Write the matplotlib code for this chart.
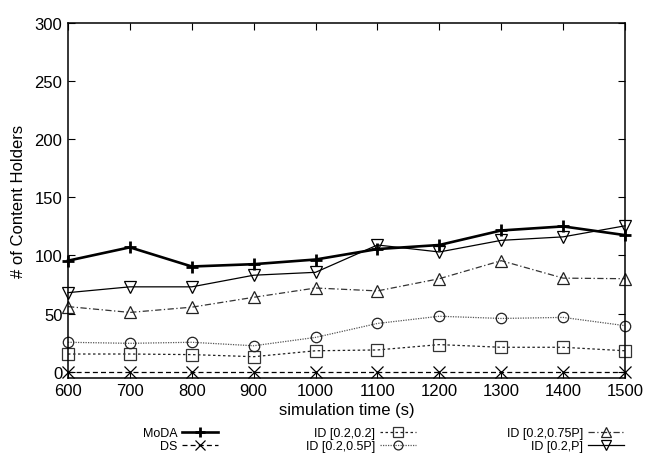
import matplotlib
matplotlib.use("Agg")
import matplotlib.pyplot as plt

plt.rcParams['font.family'] = ['Liberation Sans', 'DejaVu Sans']

# simulation times (s)
times = [600, 700, 800, 900, 1000, 1100, 1200, 1300, 1400, 1500]

# number of content holders per scheme
moda = [95.5, 107, 90.5, 92.5, 96.5, 105.5, 109, 121.5, 125, 117.5]
ds = [0, 0, 0, 0, 0, 0, 0, 0, 0, 0]
id_02_02 = [15.2, 15.2, 14.7, 12.9, 18, 18.7, 23.3, 21, 21, 18]
id_02_05p = [25.3, 24.4, 25.3, 22.3, 29.5, 41.5, 47.7, 45.8, 46.7, 39.6]
id_02_075p = [56, 51, 55.5, 64, 72, 69.5, 80, 95.5, 80.5, 80]
id_02_p = [68, 73, 73, 83, 85.5, 109, 103, 113, 116, 125.5]

fig = plt.figure(figsize=(6.48, 4.56), dpi=100)
ax = fig.add_axes([68 / 648, 1 - 378.5 / 456, 557 / 648, 354.5 / 456])

ms = 8
l_moda, = ax.plot(times, moda, color='black', lw=1.9, marker='+', ms=9, mew=2.0,
                  label='MoDA')
l_ds, = ax.plot(times, ds, color='black', lw=0.9, ls=(0, (4, 2.5)), marker='x', ms=9, mew=0.9,
                label='DS')
l_a, = ax.plot(times, id_02_02, color='#222222', lw=0.9, ls=(0, (2, 2)), marker='s', ms=ms,
               mfc='none', mec='#333333', mew=0.9, label='ID [0.2,0.2]')
l_b, = ax.plot(times, id_02_05p, color='#555555', lw=0.9, ls=(0, (1, 1)), marker='o', ms=7.5,
               mfc='none', mec='#222222', mew=0.9, label='ID [0.2,0.5P]')
l_c, = ax.plot(times, id_02_075p, color='#333333', lw=0.9, ls=(0, (5, 2, 1, 2)), marker='^', ms=ms,
               mfc='none', mec='#222222', mew=0.9, label='ID [0.2,0.75P]')
l_d, = ax.plot(times, id_02_p, color='black', lw=0.9, ls='-', marker='v', ms=ms,
               mfc='none', mec='black', mew=0.9, label='ID [0.2,P]')

for l in (l_moda, l_ds, l_a, l_b, l_c, l_d):
    l.set_clip_on(False)

ax.set_xlim(600, 1500)
ax.set_ylim(-5, 300)
ax.set_xticks(times)
ax.set_yticks(range(0, 301, 50))
ax.tick_params(direction='in', length=5, width=0.8, top=True, right=True,
               labelsize=12, pad=4, colors='black')
for s in ax.spines.values():
    s.set_linewidth(1.1)

ax.set_xlabel('simulation time (s)', fontsize=12, labelpad=3)
ax.set_ylabel('# of Content Holders', fontsize=12, labelpad=6)

# legend in three right-aligned column blocks below the axis
leg_kw = dict(loc='upper right', frameon=False, markerfirst=False, fontsize=9,
              handlelength=2.9, handletextpad=0.35, labelspacing=0.1, borderpad=0,
              borderaxespad=0, markerscale=0.85)
top = 1 - 428 / 456
fig.legend(handles=[l_moda, l_ds], bbox_to_anchor=(218 / 648, top), **leg_kw)
fig.legend(handles=[l_a, l_b], bbox_to_anchor=(416 / 648, top), **leg_kw)
fig.legend(handles=[l_c, l_d], bbox_to_anchor=(624 / 648, top), **leg_kw)

fig.savefig('out.png', dpi=100)
